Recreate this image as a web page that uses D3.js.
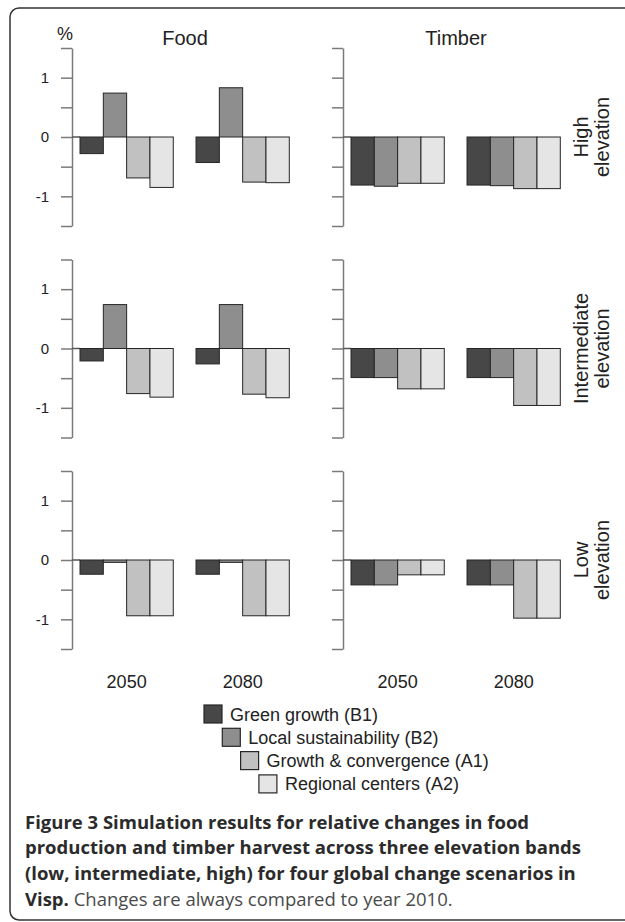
<!DOCTYPE html>
<html lang="en">
<head>
    <meta charset="UTF-8">
    <title>Figure 3</title>
    <script src="https://d3js.org/d3.v7.min.js"></script>
    <style>
        body { margin: 0; background: #fff; }
        .axis path, .axis line { stroke: #7a7a7a; stroke-width: 1.5px; }
        .axis text { font-family: "Liberation Sans", Arial, sans-serif; font-size: 15px; fill: #222; }
        .bar { stroke: #262626; stroke-width: 1px; }
        .lbl { font-family: "Liberation Sans", Arial, sans-serif; fill: #222; }
        .cap { font-family: "Open Sans", sans-serif; font-size: 18.5px; }
    </style>
</head>
<body>
    <div id="chart"></div>
    <script>
        // data (% change vs 2010)
        const scenarios = ["Green growth (B1)", "Local sustainability (B2)", "Growth & convergence (A1)", "Regional centers (A2)"];
        const colors = ["#474747", "#8e8e8e", "#c1c1c1", "#e5e5e5"];
        const years = ["2050", "2080"];
        const products = ["Food", "Timber"];
        const bandLabels = [["High", "elevation"], ["Intermediate", "elevation"], ["Low", "elevation"]];
        const yTicks = [-1.5, -1, -0.5, 0, 0.5, 1, 1.5];
        const yLabelTicks = [-1, 0, 1];

        // [year][scenario]
        const foodHigh = [[-0.28, 0.74, -0.69, -0.85], [-0.43, 0.83, -0.76, -0.77]];
        const timberHigh = [[-0.81, -0.83, -0.78, -0.78], [-0.81, -0.82, -0.87, -0.87]];
        const foodInter = [[-0.21, 0.74, -0.76, -0.82], [-0.26, 0.74, -0.77, -0.83]];
        const timberInter = [[-0.49, -0.49, -0.68, -0.68], [-0.49, -0.49, -0.96, -0.96]];
        const foodLow = [[-0.24, -0.04, -0.94, -0.94], [-0.24, -0.04, -0.94, -0.94]];
        const timberLow = [[-0.42, -0.42, -0.25, -0.25], [-0.42, -0.42, -0.98, -0.98]];

        const panels = [[foodHigh, timberHigh], [foodInter, timberInter], [foodLow, timberLow]];

        const width = 625, height = 922;
        const svg = d3.select("#chart").append("svg")
            .attr("width", width).attr("height", height);

        // frame (right edge runs off the picture)
        svg.append("rect")
            .attr("x", 10).attr("y", 8).attr("width", 650).attr("height", 912)
            .attr("rx", 9)
            .attr("fill", "none").attr("stroke", "#333").attr("stroke-width", 1.5);

        const axisX = [72, 343];
        const half = 89;

        panels.forEach((row, r) => {
            const zeroY = 137 + 211.5 * r;
            const y = d3.scaleLinear().domain([-1.5, 1.5]).range([zeroY + half, zeroY - half]);

            row.forEach((vals, c) => {
                const ax = axisX[c];
                const x0 = d3.scaleBand().domain(years).range([ax + 8, ax + 8 + 209.3]).paddingInner(0.196);
                const x1 = d3.scaleBand().domain(scenarios).range([0, x0.bandwidth()]);

                const axis = d3.axisLeft(y).tickValues(yTicks).tickSize(11).tickSizeOuter(0).tickPadding(12)
                    .tickFormat(d => (c === 0 && yLabelTicks.includes(d)) ? String(d) : "");
                svg.append("g").attr("class", "axis")
                    .attr("transform", `translate(${ax},0)`)
                    .call(axis);

                // zero line runs from the tick to the first bar
                svg.append("line")
                    .attr("x1", ax).attr("x2", x0.range()[0])
                    .attr("y1", y(0)).attr("y2", y(0))
                    .attr("stroke", "#555").attr("stroke-width", 1.5);

                years.forEach((yr, i) => {
                    svg.append("g")
                        .attr("transform", `translate(${x0(yr)},0)`)
                        .selectAll("rect")
                        .data(vals[i])
                        .join("rect")
                        .attr("class", "bar")
                        .attr("x", (d, j) => x1(scenarios[j]))
                        .attr("width", x1.bandwidth())
                        .attr("y", d => y(Math.max(0, d)))
                        .attr("height", d => Math.abs(y(d) - y(0)))
                        .attr("fill", (d, j) => colors[j]);

                    if (r === 2) {
                        svg.append("text").attr("class", "lbl")
                            .attr("x", x0(yr) + x0.bandwidth() / 2).attr("y", 688)
                            .attr("text-anchor", "middle").attr("font-size", 18)
                            .text(yr);
                    }
                });

                if (r === 0) {
                    svg.append("text").attr("class", "lbl")
                        .attr("x", c === 0 ? 185 : 456).attr("y", 44.5)
                        .attr("text-anchor", "middle").attr("font-size", 20)
                        .text(products[c]);
                }
            });

            bandLabels[r].forEach((t, k) => {
                svg.append("text").attr("class", "lbl")
                    .attr("transform", `translate(${588 + 21 * k},${zeroY}) rotate(-90)`)
                    .attr("text-anchor", "middle").attr("font-size", 20)
                    .text(t);
            });
        });

        svg.append("text").attr("class", "lbl")
            .attr("x", 65).attr("y", 40).attr("text-anchor", "middle").attr("font-size", 18)
            .text("%");

        // staggered legend
        const legend = svg.append("g").selectAll("g")
            .data(scenarios)
            .join("g")
            .attr("transform", (d, i) => `translate(${204 + 18.3 * i},${705 + 23.3 * i})`);
        legend.append("rect")
            .attr("width", 18).attr("height", 18)
            .attr("fill", (d, i) => colors[i])
            .attr("stroke", "#262626").attr("stroke-width", 1.2);
        legend.append("text").attr("class", "lbl")
            .attr("x", 26).attr("y", 15.5).attr("font-size", 18)
            .text(d => d);

        // caption
        const capLines = [
            [["Figure 3 Simulation results for relative changes in food", true]],
            [["production and timber harvest across three elevation bands", true]],
            [["(low, intermediate, high) for four global change scenarios in", true]],
            [["Visp.", true], [" Changes are always compared to year 2010.", false]]
        ];
        capLines.forEach((line, i) => {
            const t = svg.append("text").attr("class", "cap")
                .attr("x", 25).attr("y", 828.5 + 25.8 * i);
            line.forEach(([s, bold]) => {
                t.append("tspan")
                    .attr("font-weight", bold ? 700 : 400)
                    .attr("fill", bold ? "#2b2b2b" : "#4a4a4a")
                    .text(s);
            });
        });
    </script>
</body>
</html>
